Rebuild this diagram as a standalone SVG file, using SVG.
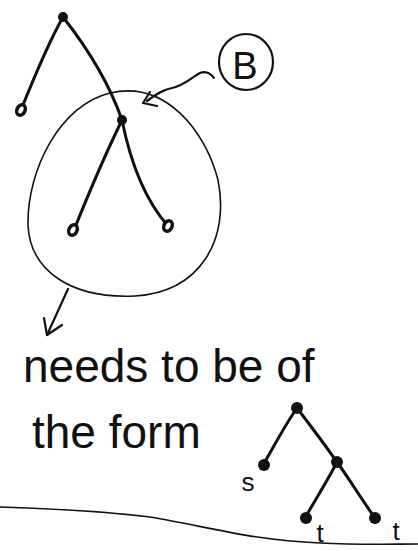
<svg xmlns="http://www.w3.org/2000/svg" width="418" height="551" viewBox="0 0 418 551">
<style>
.edge{fill:none;stroke:#111;stroke-width:3;stroke-linecap:round}
.thin{fill:none;stroke:#111;stroke-width:1.6;stroke-linecap:round;stroke-linejoin:round}
.mid{fill:none;stroke:#111;stroke-width:2.2;stroke-linecap:round;stroke-linejoin:round}
.leaf{fill:#fff;stroke:#111;stroke-width:3.5}
.dot{fill:#111}
.hand{font-family:"Liberation Sans","DejaVu Sans",sans-serif;fill:#111}
</style>
<rect width="418" height="551" fill="#fff"/>
<g id="connectors">
<path class="edge" d="M63,17 C50,40 35,75 21,110"/>
<path class="edge" d="M63,17 C85,45 108,80 122,120"/>
<path class="edge" d="M122,120 C105,155 88,195 74,230"/>
<path class="edge" d="M122,120 C130,160 145,200 168,226"/>
<path class="edge" d="M297,408 C285,425 273,448 263,465"/>
<path class="edge" d="M297,408 C310,425 325,445 337,462"/>
<path class="edge" d="M337,462 C328,480 315,500 305,518"/>
<path class="edge" d="M337,462 C350,480 362,500 375,518"/>
<path class="mid" d="M214,78 C210,73 205,71 200,73 C192,77 185,85 172,88 C162,90 155,95 147,101"/>
<path class="mid" d="M150,92 L143,103 L157,106"/>
<path class="mid" d="M68,289 L47,335"/>
<path class="mid" d="M44,318 L47,335 L62,325"/>
</g>
<g id="subtree-region">
<path class="thin" d="M110,93 C165,80 205,130 218,180 C230,240 200,292 135,296 C70,299 30,270 28,225 C27,170 60,105 110,93 Z"/>
</g>
<g id="node-root"><circle class="dot" cx="63" cy="17" r="5"/></g>
<g id="node-leaf1"><ellipse class="leaf" cx="21" cy="110" rx="4" ry="5.5" transform="rotate(25 21 110)"/></g>
<g id="node-inner"><circle class="dot" cx="122" cy="120" r="5"/></g>
<g id="node-leaf2"><ellipse class="leaf" cx="73" cy="230" rx="4" ry="5.5" transform="rotate(25 73 230)"/></g>
<g id="node-leaf3"><ellipse class="leaf" cx="168" cy="226" rx="4" ry="5.5" transform="rotate(25 168 226)"/></g>
<g id="node-B">
<ellipse class="mid" cx="246" cy="62" rx="27" ry="28"/>
<text class="hand" x="245" y="79" font-size="38" text-anchor="middle">B</text>
</g>
<g id="label-text">
<text class="hand" x="23" y="382" font-size="46">needs to be of</text>
<text class="hand" x="32" y="448" font-size="46">the form</text>
</g>
<g id="form-root"><circle class="dot" cx="297" cy="408" r="6"/></g>
<g id="form-s">
<circle class="dot" cx="264" cy="465" r="6"/>
<text class="hand" x="248" y="491" font-size="26" text-anchor="middle">s</text>
</g>
<g id="form-inner"><circle class="dot" cx="337" cy="462" r="6"/></g>
<g id="form-t1">
<circle class="dot" cx="306" cy="518" r="6"/>
<text class="hand" x="320" y="542" font-size="26" text-anchor="middle">t</text>
</g>
<g id="form-t2">
<circle class="dot" cx="375" cy="518" r="6"/>
<text class="hand" x="396" y="540" font-size="26" text-anchor="middle">t</text>
</g>
<g id="baseline">
<path class="thin" d="M0,507 C60,509 110,512 150,517 C210,527 250,540 320,543 C360,545 395,544 418,544"/>
</g>
</svg>
